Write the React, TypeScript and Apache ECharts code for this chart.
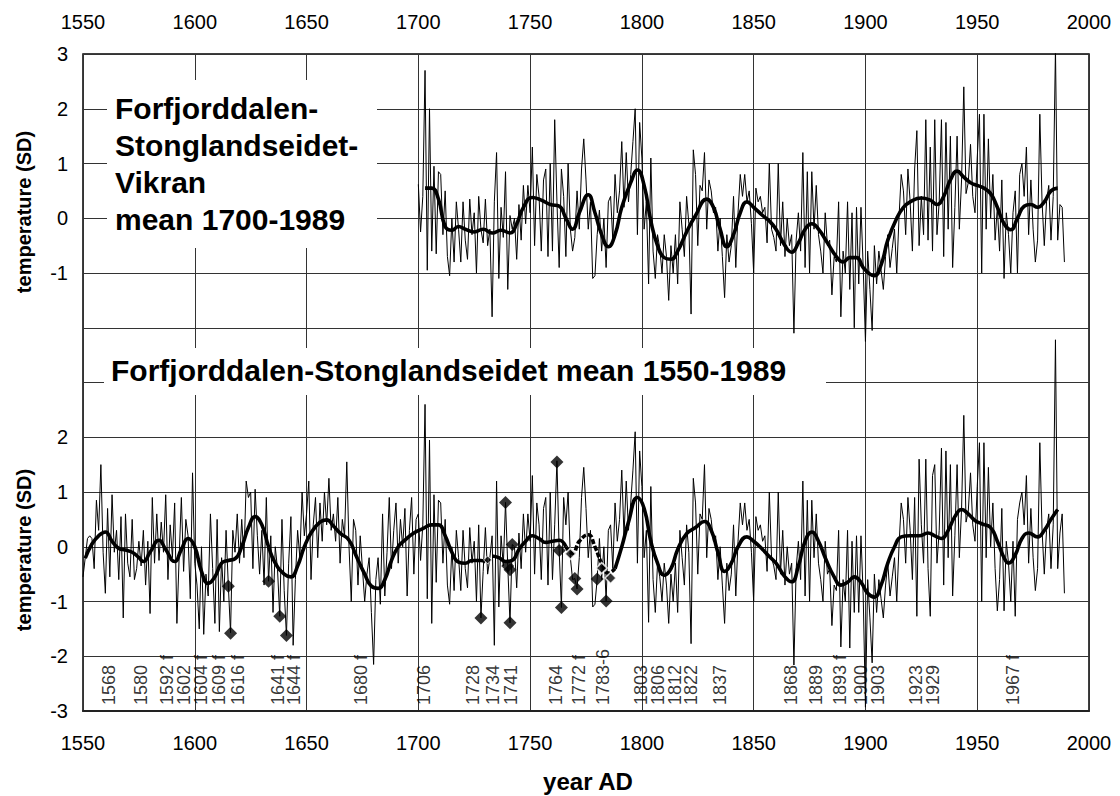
import React, { useEffect, useRef } from "react";
import * as echarts from "echarts";

// ---------------- data ----------------
const topStartYear = 1700;
// Forfjorddalen-Stonglandseidet-Vikran yearly values (SD), 1700-1989
const topYearly: number[] = [
  0.62, -0.25, 0.4, 2.7, -0.95, 2.0, -0.6, 0.95, -0.65, 0.85,
  0.8, -0.3, 0.5, -0.7, -1.05, 0.0, -0.8, 0.3, -0.2, -0.8,
  0.3, -0.4, -0.75, 0.35, -0.3, 0.1, -1.0, 0.4, -0.2, -0.45,
  0.35, -0.5, -0.2, -1.8, 0.3, 1.2, -1.1, 0.2, -0.35, 0.85,
  -1.3, 0.05, -0.2, 0.0, -0.75, 0.25, -0.4, 0.6, -0.1, 0.6,
  0.1, 1.3, -0.5, 0.8, 0.4, -0.6, 0.7, 0.9, -0.7, 1.0,
  -0.6, 1.8, 0.3, -0.9, 0.9, 0.4, -0.7, 1.0, -0.2, -0.6,
  -0.35, 0.5, -0.2, 0.9, 1.45, 0.7, -0.2, 0.3, -1.1, -1.05,
  -0.3, 0.15, -0.6, 0.0, -0.9, 0.3, 0.4, -0.4, 0.8, 0.1,
  0.5, 1.4, 0.2, 1.2, 0.3, 0.8, 1.4, 2.0, -0.3, 1.75,
  1.1, -0.2, 0.3, -1.2, 1.1, -0.6, -1.1, -0.3, -0.55, -1.0,
  -0.3, -0.7, -1.5, -0.5, -1.0, -0.3, -1.2, 0.3, -0.2, -0.7,
  0.4, -0.1, -1.75, 1.25, 0.8, -0.5, 0.6, 0.5, 1.2, -0.2,
  0.7, 0.5, 0.1, 0.2, -0.6, 0.0, -0.7, -1.45, -0.3, -0.8,
  -0.5, 0.4, -0.9, 0.1, 0.8, 0.4, 0.8, 0.3, 0.5, -0.1,
  -1.0, 0.55, 0.3, 0.4, 0.1, 0.2, -0.45, 1.0, -0.2, -0.35,
  -0.6, 1.0, -0.5, 0.3, -0.7, 0.0, -0.5, -0.3, -2.1, -0.4,
  0.1, -0.6, 1.2, -0.9, 0.85, -1.0, 0.85, -0.2, 0.6, -0.3,
  -0.6, -1.0, 0.1, -0.5, -0.4, -1.4, -0.7, -0.8, 0.3, -1.8,
  -0.6, -1.0, 0.3, -1.3, 0.1, -2.0, 0.2, -1.2, 0.2, -0.9,
  -2.25, -0.6, -1.3, -2.05, -0.5, -1.2, -0.6, -0.95, -1.3, -0.7,
  -0.3, -0.9, -0.55, -0.2, -1.0, 0.0, 0.8, 0.5, -0.3, 0.9,
  0.3, -0.6, 0.9, 1.6, -0.5, 0.4, -0.3, 1.8, -0.4, 1.3,
  -0.6, 1.8, -0.3, 0.3, 1.8, -0.7, 1.75, -0.2, 1.5, -0.9,
  0.2, 1.5, -0.2, 0.7, 2.4, 0.45, 0.65, 1.35, 0.4, 0.1,
  1.1, 1.9, -1.0, 1.9, -0.2, 1.45, 0.0, 0.8, -0.4, 0.2,
  -0.6, 0.7, -1.1, 0.1, -0.3, -1.0, 0.1, 0.5, -1.0, 0.8,
  1.0, 0.4, 1.3, -0.3, 0.7, -0.2, -0.8, -0.4, 1.9, 0.3,
  -0.5, 0.3, 0.6, -0.4, 0.4, 3.1, -0.4, 0.25, 0.2, -0.8,
];

const bottomStartYear = 1550;
// Forfjorddalen-Stonglandseidet yearly values (SD), 1550-1989
const bottomYearly: number[] = [
  -0.55, -0.2, 0.15, 0.2, 0.15, -0.4, 0.85, 0.3, 1.5, -0.1,
  -0.85, 0.7, -0.55, 0.95, -0.1, 0.3, -0.6, 0.55, -1.3, 0.6,
  -0.3, -0.55, 0.5, -0.6, -0.4, 0.1, -0.35, 0.3, -0.7, 0.1,
  -1.22, 0.9, -0.3, 0.6, -0.25, 0.45, -0.1, 0.95, -0.6, 0.4,
  -0.2, 0.8, -1.4, -0.2, 0.9, -0.45, 0.5, 0.2, -0.95, 1.35,
  -0.3, -0.7, -1.5, 0.0, -1.6, -0.5, -0.9, 0.6, -0.4, -1.4,
  0.5, -1.55, -0.2, -1.0, 0.3, -0.7, -1.57, 0.3, -0.1, 0.6,
  -0.3, 0.5, -0.2, 1.2, 0.9, 1.0, -0.4, 1.05, 0.2, -0.5,
  0.3, -0.7, 0.9, -0.63, 0.2, -1.2, 0.0, -0.4, -1.27, 0.5,
  -0.8, -1.62, -0.3, 0.55, -1.8, -0.6, 0.3, -0.2, 1.0, 0.2,
  0.6, 1.2, -0.6, 0.4, 0.9, -0.2, 0.8, 0.1, 1.0, 0.4,
  1.25, 0.3, 0.6, 0.1, 0.9, -0.3, 0.5, 0.2, 1.55, 0.0,
  -1.0, 0.5, 0.3, -0.7, 0.2, -0.4, -1.0, -0.5, -0.2, -1.2,
  -2.15, -0.6, -0.2, -1.05, 0.6, -0.9, -0.1, 0.9, -0.4, 0.3,
  0.8, -0.3, 0.5, 0.0, 0.7, -0.9, 0.3, 0.9, -0.5, 0.5,
  0.6, -0.25, 0.4, 2.6, -0.95, 1.95, -1.4, 0.95, -0.65, 0.85,
  0.8, -0.3, 0.5, -0.7, -1.05, 0.0, -0.8, 0.3, -0.2, -0.8,
  0.3, -0.4, -0.75, 0.35, -0.3, 0.1, -1.0, 0.4, -1.3, -0.45,
  0.35, -0.5, -0.2, 0.2, -1.8, 1.2, -1.1, 0.2, -0.35, 0.81,
  -0.35, -1.39, 0.04, 0.0, -0.75, 0.25, -0.4, 0.6, -0.1, 0.6,
  0.1, 1.3, -0.5, 0.8, 0.4, -0.6, 0.7, 0.9, -0.7, 1.0,
  -0.6, 0.4, 1.57, -0.07, -1.11, 0.9, 0.4, 1.0, -0.2, -0.6,
  -0.58, -0.77, -0.2, 0.9, 1.45, 0.7, -0.2, 0.3, -1.1, -1.05,
  -0.59, 0.15, -0.6, 0.0, -0.99, 0.3, 0.4, -0.4, 0.8, 0.1,
  0.5, 1.4, 0.2, 1.2, 0.3, 0.8, 1.4, 2.1, -0.3, 1.75,
  1.1, -0.2, 0.3, -1.38, 1.1, -0.6, -1.2, -0.3, -0.55, -1.0,
  -0.3, -0.7, -1.4, -0.5, -1.0, -0.3, -1.2, 0.3, -0.2, -0.7,
  0.4, -0.1, -1.77, 1.25, 0.8, -0.5, 0.6, 0.5, 1.5, -0.2,
  0.7, 0.5, 0.1, 0.2, -0.6, 0.0, -0.7, -1.4, -0.3, -0.8,
  -0.5, 0.4, -0.9, 0.1, 0.8, 0.4, 0.8, 0.3, 0.5, -0.1,
  -1.0, 0.55, 0.3, 0.4, 0.1, 0.2, -0.45, 1.0, -0.2, -0.35,
  -0.6, 1.0, -0.5, 0.3, -0.7, 0.0, -0.5, -0.3, -2.16, -0.4,
  0.1, -0.6, 1.2, -0.9, 0.85, -1.0, 0.85, -0.2, 0.6, -0.3,
  -0.6, -1.0, 0.1, -0.5, -0.4, -1.44, -0.7, -0.8, 0.3, -1.83,
  -0.6, -1.0, 0.3, -1.85, 0.1, -1.2, 0.2, -1.2, 0.2, -0.9,
  -2.93, -0.6, -1.3, -2.12, -0.5, -1.2, -0.6, -0.95, -1.3, -0.7,
  -0.3, -0.9, -0.55, -0.2, -1.0, 0.0, 0.8, 0.5, -0.3, 0.9,
  0.3, -0.6, 0.9, -1.27, 1.6, 0.4, -0.3, 1.6, -0.4, -1.27,
  1.3, 1.5, -0.3, 0.3, 1.8, -0.7, 1.75, -0.2, 1.5, -0.9,
  0.2, 1.5, -0.2, 0.7, 2.4, 0.45, 0.65, 1.35, 0.4, 0.1,
  1.1, 1.9, -1.0, 1.9, -0.2, 1.45, 0.0, 0.8, -0.4, -1.17,
  -0.6, 0.7, -1.17, 0.1, -0.3, -1.0, 0.1, -1.27, 0.5, 0.8,
  1.0, 0.4, 1.3, -0.3, 0.7, -0.2, -0.8, -0.4, 1.9, 0.3,
  -0.5, 0.3, 0.6, -0.4, 0.4, 3.78, -0.4, 0.25, 0.6, -0.85,
];

// smoothed curves [year, value]
const topSmooth: [number, number][] = [
  [1703, 0.55], [1706, 0.55], [1709, 0.35], [1712, -0.15], [1715, -0.22], [1718, -0.15],
  [1721, -0.2], [1725, -0.25], [1729, -0.2], [1733, -0.27], [1737, -0.22], [1741, -0.27],
  [1744, -0.1], [1747, 0.2], [1751, 0.38], [1755, 0.33], [1759, 0.25], [1763, 0.22],
  [1766, 0.0], [1769, -0.2], [1772, 0.1], [1776, 0.43], [1779, 0.1], [1782, -0.3],
  [1785, -0.52], [1788, -0.3], [1791, 0.2], [1795, 0.65], [1798, 0.88], [1801, 0.6],
  [1804, -0.05], [1807, -0.5], [1810, -0.72], [1813, -0.75], [1816, -0.6], [1820, -0.25],
  [1824, 0.05], [1829, 0.35], [1832, 0.2], [1835, -0.2], [1838, -0.52], [1841, -0.3],
  [1844, 0.1], [1847, 0.3], [1850, 0.2], [1854, 0.05], [1857, -0.05], [1860, -0.2],
  [1864, -0.5], [1867, -0.62], [1870, -0.45], [1873, -0.2], [1876, -0.1], [1879, -0.2],
  [1883, -0.45], [1887, -0.7], [1890, -0.8], [1893, -0.72], [1896, -0.72], [1899, -0.9],
  [1902, -1.02], [1904, -1.05], [1907, -0.85], [1910, -0.4], [1914, 0.0], [1917, 0.2],
  [1920, 0.3], [1925, 0.37], [1929, 0.33], [1932, 0.25], [1935, 0.4], [1938, 0.7],
  [1941, 0.86], [1944, 0.75], [1947, 0.65], [1950, 0.6], [1953, 0.55], [1956, 0.45],
  [1959, 0.2], [1962, -0.1], [1965, -0.21], [1968, 0.0], [1971, 0.22], [1974, 0.25],
  [1977, 0.2], [1980, 0.3], [1983, 0.5], [1986, 0.55],
];

const bottomSmoothA: [number, number][] = [
  [1551, -0.21], [1554, 0.05], [1557, 0.2], [1560, 0.27], [1563, 0.1], [1566, -0.03],
  [1569, -0.06], [1572, -0.1], [1575, -0.2], [1577, -0.27], [1580, -0.1], [1584, 0.12],
  [1587, -0.05], [1591, -0.27], [1594, -0.05], [1597, 0.15], [1600, 0.0], [1603, -0.45],
  [1606, -0.67], [1609, -0.55], [1612, -0.3], [1615, -0.25], [1618, -0.22], [1621, 0.0],
  [1624, 0.35], [1627, 0.55], [1630, 0.4], [1633, 0.0], [1636, -0.3], [1640, -0.5],
  [1643, -0.55], [1646, -0.35], [1649, 0.0], [1652, 0.25], [1656, 0.45], [1659, 0.49],
  [1662, 0.38], [1665, 0.25], [1669, 0.12], [1672, -0.15], [1676, -0.5], [1679, -0.72],
  [1682, -0.76], [1685, -0.6], [1688, -0.25], [1691, 0.0], [1694, 0.12], [1698, 0.25],
  [1702, 0.33], [1706, 0.4], [1709, 0.4], [1712, 0.2], [1715, -0.1], [1718, -0.28],
  [1721, -0.3], [1724, -0.25], [1728, -0.25], [1730, -0.28],
];
const bottomSmoothB: [number, number][] = [
  [1733, -0.17], [1736, -0.2], [1739, -0.27], [1742, -0.25], [1745, -0.05], [1748, 0.1],
  [1751, 0.2], [1754, 0.15], [1757, 0.08], [1760, 0.1], [1763, 0.12], [1766, 0.0],
];
const bottomSmoothDotted: [number, number][] = [
  [1766, 0.0], [1769, -0.12], [1772, 0.1], [1776, 0.22], [1779, 0.0], [1782, -0.3],
  [1785, -0.48], [1788, -0.4],
];
const bottomSmoothC: [number, number][] = [
  [1788, -0.4], [1791, 0.0], [1794, 0.45], [1798, 0.9], [1801, 0.7], [1804, 0.1],
  [1807, -0.3], [1810, -0.52], [1813, -0.4], [1816, -0.05], [1820, 0.24], [1824, 0.35],
  [1828, 0.46], [1831, 0.3], [1834, -0.1], [1837, -0.45], [1840, -0.3], [1843, 0.0],
  [1847, 0.18], [1850, 0.1], [1854, -0.05], [1857, -0.18], [1860, -0.3], [1864, -0.55],
  [1867, -0.64], [1870, -0.35], [1873, 0.1], [1876, 0.27], [1879, 0.1], [1882, -0.2],
  [1886, -0.55], [1889, -0.7], [1892, -0.65], [1895, -0.55], [1898, -0.65], [1901, -0.85],
  [1904, -0.92], [1907, -0.7], [1910, -0.3], [1913, 0.0], [1916, 0.18], [1920, 0.2],
  [1924, 0.2], [1928, 0.25], [1931, 0.2], [1934, 0.15], [1937, 0.3], [1940, 0.55],
  [1943, 0.68], [1946, 0.6], [1949, 0.48], [1952, 0.42], [1956, 0.35], [1959, 0.1],
  [1962, -0.2], [1964, -0.3], [1967, -0.15], [1970, 0.15], [1973, 0.25], [1977, 0.18],
  [1980, 0.3], [1983, 0.5], [1986, 0.68],
];

// event markers (diamonds) on the lower curve
const eventMarks: [number, number][] = [
  [1615, -0.72], [1616, -1.58], [1633, -0.63], [1638, -1.27], [1641, -1.62],
  [1728, -1.3], [1739, 0.81], [1740, -0.35], [1741, -0.42], [1741, -1.39], [1742, 0.04],
  [1762, 1.55], [1763, -0.07], [1764, -1.11], [1770, -0.58], [1771, -0.77],
  [1780, -0.59], [1784, -0.99],
];
const eventMarksSmall: [number, number][] = [[1731, -0.24]];
const eventMarksOpen: [number, number][] = [[1768, -0.13], [1782, -0.39], [1786, -0.57]];

// year labels at the bottom of the lower panel
const eventLabelText: string[] = [
  "1568", "1580", "1592 f", "1602", "1604 f", "1609 f", "1616 f", "1641 f", "1644 f",
  "1680 f", "1706", "1728", "1734", "1741", "1764", "1772 f", "1783-6", "1803", "1806",
  "1812", "1822", "1837", "1868", "1889", "1893 f", "1900", "1903", "1923", "1929", "1967 f",
];
const eventLabelYear: number[] = [
  1562, 1576, 1588, 1595.5, 1603, 1611, 1619.4, 1637.3, 1644.8,
  1674.6, 1702.9, 1724.6, 1733.5, 1741.8, 1761.9, 1772.3, 1782.8, 1800, 1807.4,
  1814.9, 1822.3, 1835, 1867.1, 1878.3, 1888.7, 1898.4, 1905.9, 1923, 1930.5, 1966.3,
];

const xMin = 1550;
const xMax = 2000;
const xStep = 50;
const panelOffset = 6; // lower panel drawn 6 units below upper panel on a shared axis
const labelBaseValue = -2.9;

const FONT = '"Liberation Sans", Arial, Helvetica, sans-serif';

export default function App() {
  const ref = useRef<HTMLDivElement>(null);

  useEffect(() => {
    if (!ref.current) return;
    const chart = echarts.init(ref.current, undefined, { renderer: "svg" });

    const thin = { color: "#000", width: 1 };
    const thick = { color: "#000", width: 3.6 };
    const lower = (pts: [number, number][]) => pts.map(([x, y]) => [x, y - panelOffset]);
    const yearFmt = (v: number) => String(v);

    const option: any = {
      animation: false,
      backgroundColor: "#fff",
      grid: {
        left: 83,
        right: 31,
        top: 54,
        bottom: 85,
        show: true,
        borderColor: "#000",
        borderWidth: 1.5,
      },
      xAxis: [
        {
          type: "value",
          min: xMin,
          max: xMax,
          interval: xStep,
          position: "bottom",
          axisLine: { show: true, onZero: false, lineStyle: { color: "#222", width: 2 } },
          axisTick: { show: false },
          axisLabel: { margin: 22, fontSize: 20, color: "#000", fontFamily: FONT, formatter: yearFmt },
          splitLine: { show: true, lineStyle: { color: "#333", width: 1 } },
        },
        {
          type: "value",
          min: xMin,
          max: xMax,
          interval: xStep,
          position: "top",
          axisLine: { show: false },
          axisTick: { show: false },
          axisLabel: { margin: 22, fontSize: 20, color: "#000", fontFamily: FONT, formatter: yearFmt },
          splitLine: { show: false },
        },
      ],
      yAxis: {
        type: "value",
        min: -9,
        max: 3,
        interval: 1,
        axisLine: { show: false },
        axisTick: { show: false },
        axisLabel: {
          margin: 15,
          fontSize: 20,
          color: "#000",
          fontFamily: FONT,
          showMinLabel: true,
          showMaxLabel: true,
          formatter: (v: number) =>
            v >= -1 ? String(v) : v <= -4 ? String(v + panelOffset) : "",
        },
        splitLine: { show: true, lineStyle: { color: "#333", width: 1 } },
      },
      series: [
        {
          type: "line",
          data: topYearly.map((v, i) => [topStartYear + i, v]),
          showSymbol: false,
          lineStyle: thin,
          z: 3,
        },
        {
          type: "line",
          data: bottomYearly.map((v, i) => [bottomStartYear + i, v - panelOffset]),
          showSymbol: false,
          lineStyle: thin,
          z: 3,
        },
        { type: "line", data: topSmooth, smooth: 0.5, showSymbol: false, lineStyle: thick, z: 4 },
        { type: "line", data: lower(bottomSmoothA), smooth: 0.5, showSymbol: false, lineStyle: thick, z: 4 },
        { type: "line", data: lower(bottomSmoothB), smooth: 0.5, showSymbol: false, lineStyle: thick, z: 4 },
        {
          type: "line",
          data: lower(bottomSmoothDotted),
          smooth: 0.5,
          showSymbol: false,
          lineStyle: { color: "#000", width: 3.6, type: [5, 2] },
          z: 4,
        },
        { type: "line", data: lower(bottomSmoothC), smooth: 0.5, showSymbol: false, lineStyle: thick, z: 4 },
        {
          type: "scatter",
          data: lower(eventMarks),
          symbol: "diamond",
          symbolSize: 13,
          itemStyle: { color: "#000" },
          z: 5,
        },
        {
          type: "scatter",
          data: lower(eventMarksSmall),
          symbol: "diamond",
          symbolSize: 8,
          itemStyle: { color: "#000", borderColor: "#fff", borderWidth: 1 },
          z: 5,
        },
        {
          type: "scatter",
          data: lower(eventMarksOpen),
          symbol: "diamond",
          symbolSize: 11,
          itemStyle: { color: "#000", borderColor: "#fff", borderWidth: 1.5 },
          z: 5,
        },
        {
          type: "scatter",
          data: eventLabelYear.map((y) => [y, labelBaseValue - panelOffset]),
          symbolSize: 1,
          itemStyle: { color: "rgba(0,0,0,0)" },
          silent: true,
          label: {
            show: true,
            formatter: (p: any) => eventLabelText[p.dataIndex],
            rotate: 90,
            position: [0, 0],
            align: "left",
            verticalAlign: "middle",
            fontSize: 18,
            color: "#000",
            fontFamily: FONT,
          },
          z: 6,
        },
      ],
      graphic: [
        { type: "rect", shape: { x: 107, y: 80, width: 270, height: 168 }, style: { fill: "#fff" }, z: 1 },
        ...["Forfjorddalen-", "Stonglandseidet-", "Vikran", "mean 1700-1989"].map((t, i) => ({
          type: "text",
          x: 115,
          y: 108 + i * 37,
          z: 2,
          style: {
            text: t,
            font: `bold 30px ${FONT}`,
            fill: "#000",
            textAlign: "left",
            textVerticalAlign: "middle",
            align: "left",
            verticalAlign: "middle",
          },
        })),
        { type: "rect", shape: { x: 104, y: 348, width: 722, height: 47 }, style: { fill: "#fff" }, z: 1 },
        {
          type: "text",
          x: 111,
          y: 370,
          z: 2,
          style: {
            text: "Forfjorddalen-Stonglandseidet mean 1550-1989",
            font: `bold 30px ${FONT}`,
            fill: "#000",
            textAlign: "left",
            textVerticalAlign: "middle",
            align: "left",
            verticalAlign: "middle",
          },
        },
        ...[212, 550].map((cy) => ({
          type: "text",
          x: 24,
          y: cy,
          rotation: Math.PI / 2,
          z: 2,
          style: {
            text: "temperature (SD)",
            font: `bold 20px ${FONT}`,
            fill: "#000",
            textAlign: "center",
            textVerticalAlign: "middle",
            align: "center",
            verticalAlign: "middle",
          },
        })),
        {
          type: "text",
          x: 588,
          y: 781,
          z: 2,
          style: {
            text: "year AD",
            font: `bold 24px ${FONT}`,
            fill: "#000",
            textAlign: "center",
            textVerticalAlign: "middle",
            align: "center",
            verticalAlign: "middle",
          },
        },
      ],
    };

    chart.setOption(option);
    return () => chart.dispose();
  }, []);

  return (
    <div
      ref={ref}
      style={{ position: "fixed", left: 0, top: 0, width: 1120, height: 796, background: "#fff" }}
    />
  );
}
